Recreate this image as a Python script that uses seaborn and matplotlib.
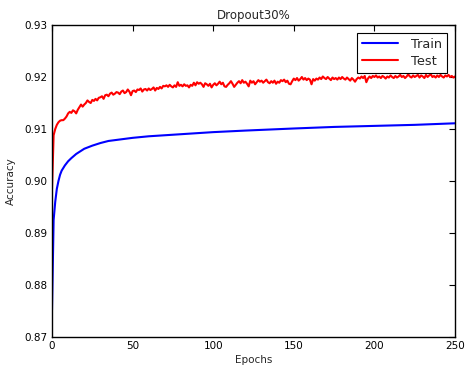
import matplotlib
matplotlib.use("Agg")
import matplotlib.pyplot as plt
import seaborn as sns
import pandas as pd

train_epochs = [0, 1, 2, 3, 4, 5, 6, 8, 10, 12, 15, 20, 25, 30, 35, 40, 50, 60, 70,
                80, 100, 120, 150, 175, 200, 225, 250]
train_acc = [0.8752, 0.8925, 0.8960, 0.8985, 0.9000, 0.9012, 0.9020, 0.9030, 0.9038,
             0.9044, 0.9052, 0.9062, 0.9068, 0.9073, 0.9077, 0.9079, 0.9083, 0.9086,
             0.9088, 0.9090, 0.9094, 0.9097, 0.9101, 0.9104, 0.9106, 0.9108, 0.9111]

test_acc = [
    0.8985, 0.9088, 0.9100, 0.9108, 0.9113, 0.9116, 0.9117, 0.9117, 0.9120, 0.9124,
    0.9130, 0.9133, 0.9131, 0.9136, 0.9134, 0.9130, 0.9137, 0.9142, 0.9147, 0.9143,
    0.9147, 0.9150, 0.9155, 0.9152, 0.9150, 0.9156, 0.9154, 0.9158, 0.9155, 0.9160,
    0.9161, 0.9163, 0.9158, 0.9165, 0.9166, 0.9163, 0.9168, 0.9170, 0.9166, 0.9168,
    0.9171, 0.9170, 0.9167, 0.9172, 0.9174, 0.9169, 0.9171, 0.9176, 0.9172, 0.9165,
    0.9173, 0.9174, 0.9171, 0.9176, 0.9175, 0.9178, 0.9172, 0.9176, 0.9177, 0.9174,
    0.9178, 0.9175, 0.9177, 0.9180, 0.9174, 0.9179, 0.9177, 0.9181, 0.9178, 0.9183,
    0.9182, 0.9184, 0.9181, 0.9185, 0.9182, 0.9180, 0.9184, 0.9181, 0.9190, 0.9183,
    0.9185, 0.9182, 0.9186, 0.9183, 0.9184, 0.9180, 0.9185, 0.9183, 0.9189, 0.9184,
    0.9190, 0.9187, 0.9189, 0.9186, 0.9181, 0.9188, 0.9186, 0.9183, 0.9187, 0.9180,
    0.9185, 0.9188, 0.9184, 0.9187, 0.9191, 0.9186, 0.9189, 0.9182, 0.9181, 0.9185,
    0.9188, 0.9192, 0.9187, 0.9181, 0.9185, 0.9189, 0.9192, 0.9188, 0.9194, 0.9189,
    0.9191, 0.9187, 0.9182, 0.9193, 0.9189, 0.9192, 0.9186, 0.9190, 0.9194, 0.9191,
    0.9193, 0.9189, 0.9192, 0.9195, 0.9190, 0.9188, 0.9192, 0.9189, 0.9193, 0.9187,
    0.9191, 0.9189, 0.9194, 0.9192, 0.9195, 0.9190, 0.9193, 0.9187, 0.9186, 0.9192,
    0.9197, 0.9194, 0.9198, 0.9193, 0.9196, 0.9200, 0.9195, 0.9198, 0.9194, 0.9197,
    0.9195, 0.9186, 0.9196, 0.9193, 0.9197, 0.9195, 0.9199, 0.9196, 0.9201, 0.9198,
    0.9196, 0.9200, 0.9197, 0.9194, 0.9199, 0.9196, 0.9198, 0.9195, 0.9199, 0.9196,
    0.9200, 0.9197, 0.9195, 0.9199, 0.9196, 0.9193, 0.9198, 0.9195, 0.9191, 0.9196,
    0.9199, 0.9197, 0.9201, 0.9198, 0.9202, 0.9190, 0.9197, 0.9201, 0.9198, 0.9202,
    0.9200, 0.9203, 0.9199, 0.9201, 0.9198, 0.9202, 0.9200, 0.9197, 0.9201, 0.9199,
    0.9203, 0.9200, 0.9198, 0.9202, 0.9199, 0.9201, 0.9204, 0.9200, 0.9202, 0.9198,
    0.9201, 0.9205, 0.9201, 0.9199, 0.9203, 0.9200, 0.9202, 0.9204, 0.9199, 0.9203,
    0.9201, 0.9198, 0.9204, 0.9200, 0.9203, 0.9205, 0.9200, 0.9202, 0.9199, 0.9203,
    0.9200, 0.9204, 0.9201, 0.9199, 0.9203, 0.9201, 0.9204, 0.9200, 0.9202, 0.9199,
    0.9201,
]
test_epochs = list(range(len(test_acc)))

title = "Dropout30%"
x_label = "Epochs"
y_label = "Accuracy"
x_ticks = [0, 50, 100, 150, 200, 250]
y_ticks = [0.87, 0.88, 0.89, 0.90, 0.91, 0.92, 0.93]

df = pd.concat([
    pd.DataFrame({"epoch": train_epochs, "acc": train_acc, "set": "Train"}),
    pd.DataFrame({"epoch": test_epochs, "acc": test_acc, "set": "Test"}),
], ignore_index=True)

sns.set_style("white")
plt.rcParams["font.family"] = ["DejaVu Sans"]

fig = plt.figure(figsize=(4.66, 3.71), dpi=100)
ax = fig.add_axes([0.1116, 0.0916, 0.8648, 0.841])

sns.lineplot(data=df, x="epoch", y="acc", hue="set",
             palette={"Train": "#0000ff", "Test": "#ff0000"},
             linewidth=1.5, ax=ax, estimator=None, sort=False)

ax.set_xlim(0, 250)
ax.set_ylim(0.87, 0.93)
ax.set_xticks(x_ticks)
ax.set_yticks(y_ticks)
ax.set_yticklabels([f"{v:.2f}" for v in y_ticks])
ax.tick_params(direction="in", top=True, right=True, labelsize=7.5,
               length=4, width=0.8, pad=3, colors="black")
for s in ax.spines.values():
    s.set_color("black")
    s.set_linewidth(1.0)
ax.set_xlabel(x_label, fontsize=7.5, labelpad=3)
ax.set_ylabel(y_label, fontsize=7.5, labelpad=6)
ax.set_title(title, fontsize=8.5, pad=4)

leg = ax.legend(loc="upper right", fontsize=9.3, frameon=True, fancybox=False,
                edgecolor="black", borderaxespad=0.6, handlelength=2.8,
                handletextpad=1.0, borderpad=0.4, labelspacing=0.3)
leg.get_frame().set_linewidth(0.8)
leg.get_frame().set_alpha(1)

fig.savefig("out.png", dpi=100, facecolor="white")
